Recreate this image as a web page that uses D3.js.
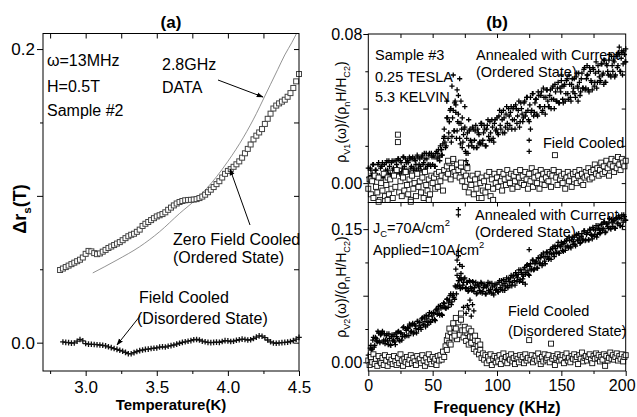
<!DOCTYPE html>
<html>
<head>
<meta charset="utf-8">
<title>Surface resistance and vortex resistivity</title>
<script src="https://cdn.jsdelivr.net/npm/d3@7"></script>
<style>
  body { margin: 0; background: #fff; }
  svg text { font-family: "Liberation Sans", Arial, sans-serif; fill: #000; }
  .tick line { stroke: #000; }
</style>
</head>
<body>
<svg id="chart" width="637" height="417"></svg>
<script>
// ---- panel (a): delta r_s vs temperature ----
// zero field cooled, sampled every 0.02 K from 2.82 K
var zfcT = d3.range(0, 85).map(function(i) { return +(2.82 + i * 0.02).toFixed(2); });
var zfcR = [0.0495,0.0505,0.0515,0.0525,0.0535,0.0545,0.0555,0.0565,0.0580,0.0605,
            0.0625,0.0622,0.0610,0.0603,0.0608,0.0620,0.0632,0.0645,0.0655,0.0665,
            0.0675,0.0685,0.0698,0.0712,0.0725,0.0735,0.0742,0.0755,0.0770,0.0795,
            0.0810,0.0822,0.0835,0.0848,0.0860,0.0868,0.0876,0.0888,0.0905,0.0920,
            0.0935,0.0948,0.0958,0.0965,0.0970,0.0972,0.0973,0.0975,0.0978,0.0985,
            0.0995,0.1008,0.1025,0.1042,0.1060,0.1080,0.1100,0.1125,0.1150,0.1170,
            0.1182,0.1198,0.1215,0.1235,0.1260,0.1290,0.1320,0.1350,0.1385,0.1410,
            0.1432,0.1455,0.1490,0.1525,0.1560,0.1595,0.1615,0.1630,0.1642,0.1655,
            0.1675,0.1700,0.1735,0.1780,0.1830];
// field cooled, every 0.02 K from 2.84 K, in units of 1e-4
var fcT = d3.range(0, 84).map(function(i) { return +(2.84 + i * 0.02).toFixed(2); });
var fcR = [5,2,0,-3,-2,10,22,12,-6,-10,
           -11,-12,-14,-16,-18,-22,-28,-34,-40,-46,
           -52,-58,-66,-75,-76,-68,-60,-54,-50,-46,
           -44,-40,-38,-36,-30,-28,-30,-24,-20,-16,
           -10,-4,2,6,10,14,20,22,18,10,
           6,2,0,2,4,2,8,14,12,8,
           10,16,20,24,22,18,20,28,38,46,
           44,34,18,6,-2,-4,-2,0,2,4,
           8,14,24,36];
// 2.8 GHz data (thin line)
var ghzT = [3.05,3.22,3.38,3.52,3.66,3.78,3.92,4.00,4.11,4.20,4.25,4.30,4.35,4.40,4.45,4.49];
var ghzR = [0.0475,0.0563,0.0654,0.0756,0.088,0.098,0.113,0.1235,0.140,0.156,0.166,0.176,0.186,0.196,0.2045,0.212];

// ---- panel (b): rho_v vs frequency, units of 1e-3 ----
// sweep A at every kHz, sweep B half a kHz later
var freq = d3.range(0, 201);
var freqB = d3.range(0, 200).map(function(i) { return i + 0.5; });
var v1Annealed = [8,1,7,5,10,3,7,4,11,3, 9,11,4,4,11,7,12,5,11,7,
  12,5,10,13,6,12,6,14,9,13, 7,11,14,8,13,7,13,10,15,8,
  13,7,15,11,13,16,9,15,10,16, 10,14,9,17,16,14,20,15,21,25,
  19,35,24,33,40,25,39,28,42,28, 37,24,32,19,26,30,16,27,20,29,
  22,30,19,28,19,29,26,21,32,23, 31,20,29,34,23,27,34,24,32,28,
  35,26,39,29,34,39,27,37,32,40, 31,41,34,41,29,40,36,44,33,40,
  33,43,36,46,39,33,46,39,48,38, 45,37,49,41,47,38,51,41,46,50,
  41,47,40,51,45,53,44,51,43,51, 55,45,52,44,55,48,58,46,53,49,
  56,46,59,51,54,49,59,51,62,51, 58,50,62,55,50,61,54,65,54,60,
  54,64,58,66,54,64,60,66,58,68, 60,65,58,69,63,69,60,71,64,69, 65];
var v1AnnealedB = [3,8,4,10,2,7,4,10,4,8, 9,3,10,7,12,5,9,4,12,8,
  7,12,8,13,5,11,8,14,7,11, 12,6,13,9,14,8,12,7,14,10,
  9,14,10,16,8,13,10,16,9,14, 15,9,16,13,18,12,18,15,24,22,
  20,35,27,39,22,35,28,44,24,33, 32,21,29,22,29,17,24,16,28,23,
  20,29,23,31,19,27,22,32,21,27, 29,20,31,25,33,23,30,22,34,29,
  27,36,31,38,27,35,30,41,29,36, 38,29,40,34,42,32,39,30,43,37,
  35,44,38,46,34,42,38,48,36,43, 45,36,47,41,49,39,46,37,50,44,
  41,50,45,52,40,49,44,54,43,49, 52,43,53,48,56,45,53,44,56,51,
  48,57,52,59,47,56,51,61,50,56, 58,49,60,54,62,52,59,51,63,57,
  55,64,59,66,54,63,58,69,57,63, 66,57,68,62,70,60,67,58,71,65];
var v1FieldCooled = [-3,2,-6,1,-8,4,-2,-5,3,-9, 0,-4,5,-7,-1,3,-6,2,-3,-8,
  4,-2,7,26,-5,1,-7,3,-4,6, -1,-6,2,-9,4,-3,0,-7,5,-2,
  1,-5,3,-8,6,-1,-4,2,-6,4, 0,3,-3,5,-2,6,1,4,-4,7,
  3,9,5,11,2,8,12,6,4,10, 7,3,9,1,6,-2,4,8,-5,2,
  -1,4,-6,2,-3,5,-8,0,3,-4, 1,-5,4,-2,6,-7,2,-3,5,0,
  3,-2,6,1,-4,5,2,-1,7,3, 0,5,-3,4,1,6,-2,3,7,0,
  4,-1,6,2,-3,5,1,8,-2,3, 6,0,4,-3,7,2,5,-1,3,6,
  1,5,-2,4,7,15,3,-1,6,2, 4,0,5,-3,3,6,1,4,-2,5,
  2,6,0,4,7,1,5,-1,3,6, 4,8,2,6,3,7,10,5,8,4,
  7,11,5,9,6,12,8,4,10,13, 9,6,12,8,14,10,7,13,11,9, 12];
var v2Annealed = [8,4,19,15,28,19,27,23,33,22, 32,35,25,21,30,24,32,20,29,24,
  31,20,29,34,25,33,25,39,31,38, 30,38,43,34,42,32,43,38,46,37,
  45,37,50,42,46,53,42,52,46,55, 48,55,47,60,59,55,64,54,62,66,
  61,71,62,70,77,68,77,71,85,85, 92,86,95,84,90,95,84,90,81,91,
  83,91,80,87,77,88,85,79,89,80, 88,77,85,90,79,82,89,78,86,81,
  88,79,92,82,87,93,81,91,86,94, 87,98,90,98,87,98,95,104,93,101,
  94,105,99,109,103,98,111,105,115,105, 113,106,118,111,118,109,123,114,119,124,
  116,123,116,128,123,131,123,131,123,131, 135,126,134,126,137,131,141,130,138,133,
  141,131,144,137,140,135,145,138,148,138, 146,138,150,144,139,150,144,154,144,151,
  145,155,149,158,146,156,153,158,151,161, 153,159,151,163,157,163,154,166,158,164, 160];
var v2AnnealedB = [3,16,14,25,17,28,24,35,24,31, 33,23,32,25,32,20,27,19,31,25,
  23,33,27,35,24,33,29,40,29,36, 39,30,41,35,44,34,41,33,46,41,
  39,49,43,51,40,49,45,56,45,52, 56,48,59,54,63,53,61,53,67,62,
  61,71,67,75,65,75,73,86,77,87, 92,83,93,87,94,83,90,80,92,85,
  81,90,84,90,78,86,81,90,78,84, 86,77,87,81,89,78,85,76,88,82,
  80,90,84,92,81,89,85,95,84,91, 95,86,97,92,101,91,99,91,104,99,
  97,107,101,110,99,108,104,115,104,111, 114,106,117,112,121,111,119,111,124,119,
  117,127,122,130,119,128,124,135,123,130, 133,125,136,130,139,129,137,129,141,136,
  133,143,138,145,134,142,138,148,137,144, 146,138,149,143,152,142,149,141,154,149,
  146,156,151,158,147,156,151,162,150,157, 160,151,162,156,165,154,162,153,166,160];
var v2FieldCooled = [2,-3,6,0,9,-2,4,-4,7,1, -1,5,-3,8,2,-4,6,0,3,-2,
  7,1,-3,5,-1,9,2,-4,4,0, 6,-2,3,8,-1,5,1,-3,7,2,
  4,-1,8,2,-4,5,0,9,3,-2, 6,1,4,-3,7,2,8,3,12,6,
  18,25,30,22,34,28,40,33,38,26, 45,31,55,36,28,40,24,33,20,29,
  22,28,15,25,12,18,9,14,5,10, 3,8,-1,6,2,9,-3,4,7,0,
  5,1,8,-2,4,10,2,6,-1,7, 3,9,1,5,-2,7,4,0,8,3,
  6,-1,9,2,5,25,3,8,0,4, 7,2,10,4,-2,6,1,9,3,5,
  8,0,21,4,7,-3,5,9,2,6, 3,8,-1,6,10,2,5,0,7,4,
  9,3,6,-2,8,4,11,1,5,7, 2,6,9,3,-1,7,4,10,5,8,
  1,6,3,9,-4,7,2,5,11,4, 8,3,6,10,2,7,4,9,1,6, 8];
// additional scattered points [kHz, 1e-3]
var v1AnnealedExtra = [[57,18],[59,29],[61,44],[63,33],[64,40],[65,52],[66,58],[67,43],[68,38],
  [69,50],[70,47],[71,56],[72,44],[73,35],[75,41],[76,12],[77,10],[78,34],[86,21],[88,31],
  [125,17],[125,23],[126,29],[163,44],[183,53],[195,73],[197,70],[200,72],[170,63],[150,58]];
var v1FieldCooledExtra = [[8,-10],[15,-9],[23,22],[33,-10],[47,-9],[88,-8],[97,-9],[62,12],[66,13],[72,11]];
var v2AnnealedExtra = [[68,105],[69,98],[69,115],[70,125],[70,120],[70,166],[70,172],
  [71,110],[71,95],[72,100],[73,108],[74,62],[76,55],[77,64],[78,60],[79,70],[80,52],[81,65],
  [82,58],[120,90],[122,88],[125,127]];
var v2FieldCooledExtra = [[61,14],[63,38],[64,20],[66,44],[67,30],[68,50],[72,48],[75,36],[78,38],
  [80,35],[83,30],[85,24],[87,20]];

var svg = d3.select("#chart");
svg.append("rect").attr("width", 637).attr("height", 417).attr("fill", "#fff");

var xA = d3.scaleLinear().domain([2.7, 4.5]).range([43, 299]);
var yA = d3.scaleLinear().domain([-0.0193, 0.2106]).range([371, 33.5]);
var xB = d3.scaleLinear().domain([0, 200]).range([368.3, 625.7]);
var yB1 = d3.scaleLinear().domain([-0.0104, 0.08]).range([202.5, 34]);
var yB2 = d3.scaleLinear().domain([-0.0098, 0.18]).range([371, 202.5]);

function put(axis, tx, ty, size) {
  var a = svg.append("g").attr("transform", "translate(" + tx + "," + ty + ")").call(axis);
  a.select(".domain").remove();
  a.selectAll("text").style("font-size", (size || 17) + "px");
  return a;
}
function frame(x, y) {
  svg.append("rect")
    .attr("x", x.range()[0]).attr("y", y.range()[1])
    .attr("width", x.range()[1] - x.range()[0])
    .attr("height", y.range()[0] - y.range()[1])
    .attr("fill", "none").attr("stroke", "#000").attr("stroke-width", 1);
}
function plus(data, x, y, col, arm, w) {
  arm = arm || 2.6;
  svg.append("g").selectAll("path").data(data).join("path")
    .attr("d", "M" + (-arm) + ",0H" + arm + "M0," + (-arm) + "V" + arm)
    .attr("transform", function(d) { return "translate(" + x(d[0]) + "," + y(d[1]) + ")"; })
    .attr("stroke", col || "#000").attr("stroke-width", w || 1.3).attr("fill", "none");
}
function square(data, x, y, sz, col, w) {
  svg.append("g").selectAll("rect").data(data).join("rect")
    .attr("x", function(d) { return x(d[0]) - sz / 2; })
    .attr("y", function(d) { return y(d[1]) - sz / 2; })
    .attr("width", sz).attr("height", sz)
    .attr("fill", "#fff").attr("stroke", col || "#000").attr("stroke-width", w || 0.9);
}
function arrow(x1, y1, x2, y2) {
  svg.append("line").attr("x1", x1).attr("y1", y1).attr("x2", x2).attr("y2", y2)
    .attr("stroke", "#000").attr("stroke-width", 1).attr("marker-end", "url(#head)");
}
svg.append("defs").append("marker").attr("id", "head")
  .attr("viewBox", "0 0 10 10").attr("refX", 9).attr("refY", 5)
  .attr("markerWidth", 7).attr("markerHeight", 7).attr("orient", "auto")
  .append("path").attr("d", "M0,1.5L10,5L0,8.5Z").attr("fill", "#000");
svg.append("clipPath").attr("id", "clipA").append("rect")
  .attr("x", 43).attr("y", 33.5).attr("width", 256).attr("height", 337.5);

// ---------- panel (a) ----------
var f1 = d3.format(".1f");
put(d3.axisBottom(xA).tickValues([3, 3.5, 4, 4.5]).tickSize(5).tickPadding(5).tickFormat(f1), 0, 371);
put(d3.axisBottom(xA).tickValues([2.75, 3.25, 3.75, 4.25]).tickSize(3).tickFormat(""), 0, 371);
put(d3.axisTop(xA).tickValues([2.75, 3, 3.25, 3.5, 3.75, 4, 4.25]).tickSize(-5).tickFormat(""), 0, 33.5);
put(d3.axisLeft(yA).tickValues([0, 0.1, 0.2]).tickSize(6).tickPadding(2)
  .tickFormat(function(d) { return d === 0.1 ? "" : f1(d); }), 43, 0);
put(d3.axisLeft(yA).tickValues([0.05, 0.15]).tickSize(3).tickFormat(""), 43, 0);
put(d3.axisRight(yA).tickValues([0, 0.05, 0.1, 0.15, 0.2]).tickSize(-5).tickFormat(""), 299, 0);

svg.append("path").datum(ghzT.map(function(t, i) { return [t, ghzR[i]]; }))
  .attr("clip-path", "url(#clipA)")
  .attr("d", d3.line().x(function(d) { return xA(d[0]); }).y(function(d) { return yA(d[1]); })
    .curve(d3.curveMonotoneX))
  .attr("fill", "none").attr("stroke", "#777").attr("stroke-width", 0.8);
square(zfcT.map(function(t, i) { return [t, zfcR[i]]; }), xA, yA, 5, "#444", 1);
plus(fcT.map(function(t, i) { return [t, fcR[i] * 1e-4]; }), xA, yA, "#111", 2.8, 1.3);
frame(xA, yA);

function txt(x, y, s, size, anchor, bold) {
  return svg.append("text").attr("x", x).attr("y", y).attr("text-anchor", anchor || "start")
    .style("font-size", size + "px").style("font-weight", bold ? "bold" : "normal").text(s);
}
txt(171, 28, "(a)", 17, "middle", true);
txt(171, 410, "Temperature(K)", 15, "middle", true);
txt(47, 66, "\u03c9=13MHz", 16);
txt(47, 92, "H=0.5T", 16);
txt(47, 116, "Sample #2", 16);
txt(162, 70, "2.8GHz", 16);
txt(162, 93, "DATA", 16);
arrow(218, 80, 263, 97);
txt(173, 245, "Zero Field Cooled", 16);
txt(173, 263, "(Ordered State)", 16);
arrow(250, 225, 230, 169);
txt(139, 303, "Field Cooled", 16);
txt(137, 324, "(Disordered State)", 16);
arrow(140, 316, 117, 345);

// text with sub/superscript parts
function fill(t, parts, size) {
  var shift = 0;
  parts.forEach(function(p) {
    var s = t.append("tspan");
    var target = 0, fs = size;
    if (typeof p !== "string") {
      target = p.sub ? size * 0.3 : -size * 0.45; fs = size * 0.65; p = p.t;
    }
    s.attr("dy", target - shift).style("font-size", fs + "px").text(p);
    shift = target;
  });
}
function vlabel(x, y, parts, size, bold) {
  var t = svg.append("text").attr("transform", "translate(" + x + "," + y + ") rotate(-90)")
    .attr("text-anchor", "middle").style("font-size", size + "px")
    .style("font-weight", bold ? "bold" : "normal");
  fill(t, parts, size);
}
vlabel(26, 209, ["\u0394r", {t: "s", sub: true}, "(T)"], 18, true);

// ---------- panel (b) ----------
var f2 = d3.format(".2f");
var xt = put(d3.axisBottom(xB).tickValues([0, 50, 100, 150, 200]).tickSize(5).tickPadding(4), 0, 371, 16);
xt.selectAll("text").filter(function(d) { return d === 200; }).attr("dx", -4);
put(d3.axisBottom(xB).tickValues([25, 75, 125, 175]).tickSize(3).tickFormat(""), 0, 371);
put(d3.axisBottom(xB).tickValues([25, 50, 75, 100, 125, 150, 175]).tickSize(4).tickFormat(""), 0, 202.5);
put(d3.axisTop(xB).tickValues([25, 50, 75, 100, 125, 150, 175]).tickSize(-4).tickFormat(""), 0, 34);
put(d3.axisLeft(yB1).tickValues([0, 0.04, 0.08]).tickSize(5).tickPadding(1)
  .tickFormat(function(d) { return d === 0.04 ? "" : f2(d); }), 368.3, 0, 16);
put(d3.axisLeft(yB1).tickValues([0.02, 0.06]).tickSize(3).tickFormat(""), 368.3, 0);
put(d3.axisRight(yB1).tickValues([0, 0.02, 0.04, 0.06]).tickSize(-4).tickFormat(""), 625.7, 0);
put(d3.axisLeft(yB2).tickValues([0, 0.075, 0.15]).tickSize(5).tickPadding(1)
  .tickFormat(function(d) { return d === 0.075 ? "" : f2(d); }), 368.3, 0, 16);
put(d3.axisLeft(yB2).tickValues([0.0375, 0.1125]).tickSize(3).tickFormat(""), 368.3, 0);
put(d3.axisRight(yB2).tickValues([0, 0.0375, 0.075, 0.1125, 0.15]).tickSize(-4).tickFormat(""), 625.7, 0);

function pairs(fs, vals) { return fs.map(function(f, i) { return [f, vals[i] * 1e-3]; }); }
function extra(arr) { return arr.map(function(d) { return [d[0], d[1] * 1e-3]; }); }
plus(pairs(freq, v1Annealed), xB, yB1);
plus(pairs(freqB, v1AnnealedB), xB, yB1);
plus(extra(v1AnnealedExtra), xB, yB1);
square(pairs(freq, v1FieldCooled), xB, yB1, 5, "#111");
square(extra(v1FieldCooledExtra), xB, yB1, 5, "#111");
plus(pairs(freq, v2Annealed), xB, yB2);
plus(pairs(freqB, v2AnnealedB), xB, yB2);
plus(extra(v2AnnealedExtra), xB, yB2);
square(pairs(freq, v2FieldCooled), xB, yB2, 5, "#111");
square(extra(v2FieldCooledExtra), xB, yB2, 5, "#111");
frame(xB, yB1);
frame(xB, yB2);

txt(497, 28, "(b)", 17, "middle", true);
txt(497, 413, "Frequency (KHz)", 16, "middle", true);
txt(375, 60, "Sample #3", 14.5);
txt(375, 82, "0.25 TESLA", 14.5);
txt(375, 102, "5.3 KELVIN", 14.5);
txt(476, 60, "Annealed with Current", 14.5);
txt(476, 77, "(Ordered State)", 14.5);
txt(543, 148, "Field Cooled", 14.5);
var jc = svg.append("text").attr("x", 373).attr("y", 233).style("font-size", "14.5px");
fill(jc, ["J", {t: "C", sub: true}, "=70A/cm", {t: "2", sub: false}], 14.5);
var ap = svg.append("text").attr("x", 373).attr("y", 255).style("font-size", "14.5px");
fill(ap, ["Applied=10A/cm", {t: "2", sub: false}], 14.5);
txt(475, 220, "Annealed with Current", 14.5);
txt(475, 237, "(Ordered State)", 14.5);
txt(508, 316, "Field Cooled", 14.5);
txt(508, 336, "(Disordered State)", 14.5);
vlabel(346, 112, ["\u03c1", {t: "V1", sub: true}, "(\u03c9)/(\u03c1", {t: "n", sub: true}, "H/H", {t: "C2", sub: true}, ")"], 14);
vlabel(346, 287, ["\u03c1", {t: "V2", sub: true}, "(\u03c9)/(\u03c1", {t: "n", sub: true}, "H/H", {t: "C2", sub: true}, ")"], 14);
</script>
</body>
</html>
